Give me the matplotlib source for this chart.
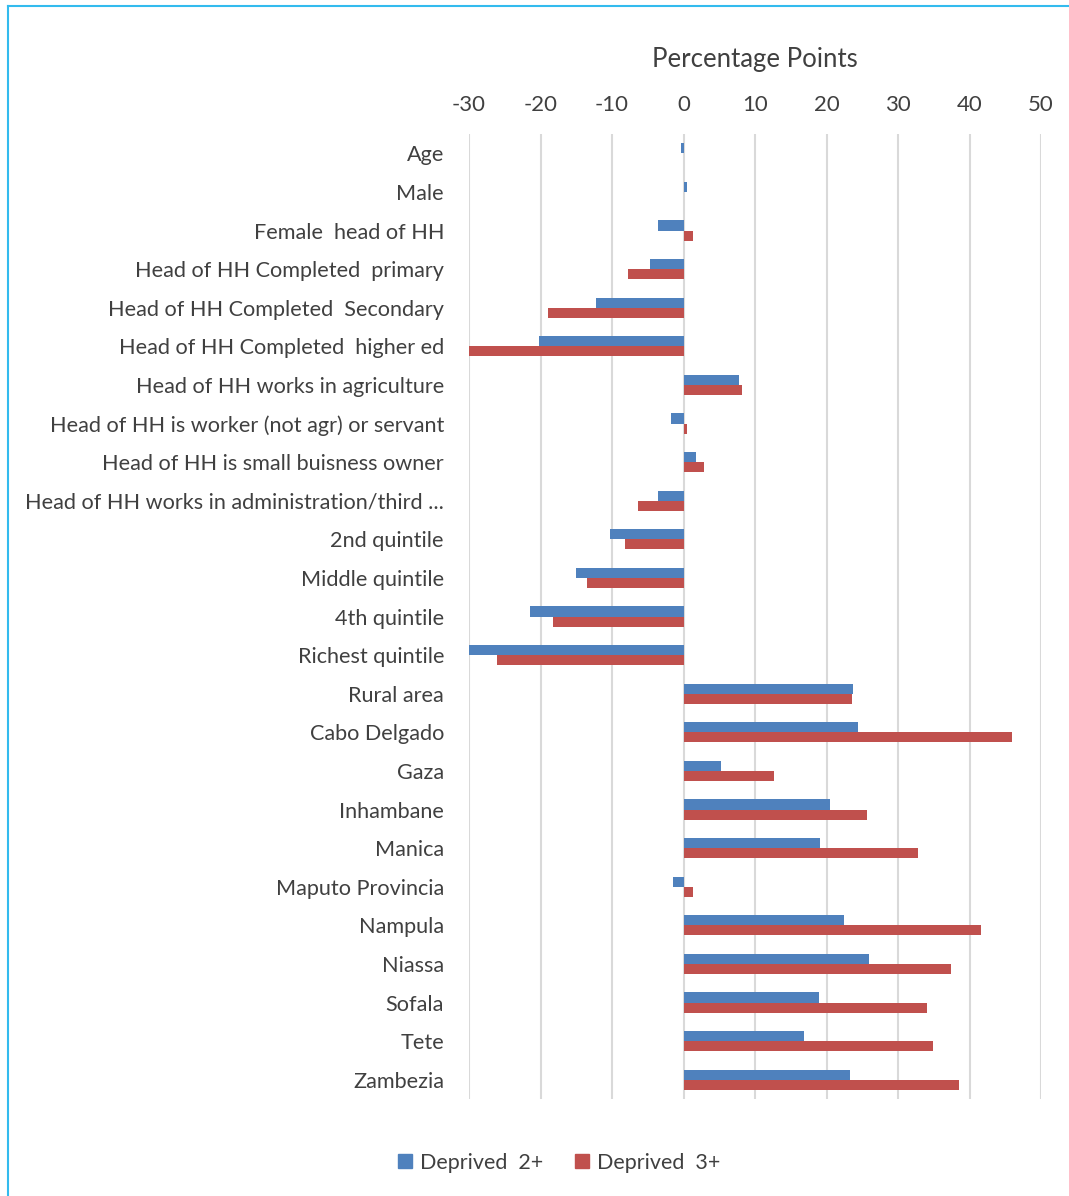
import matplotlib
matplotlib.use("Agg")
import matplotlib.pyplot as plt
import numpy as np
from matplotlib.lines import Line2D

categories = [
    "Age", "Male", "Female  head of HH", "Head of HH Completed  primary",
    "Head of HH Completed  Secondary", "Head of HH Completed  higher ed",
    "Head of HH works in agriculture", "Head of HH is worker (not agr) or servant",
    "Head of HH is small buisness owner", "Head of HH works in administration/third ...",
    "2nd quintile", "Middle quintile", "4th quintile", "Richest quintile",
    "Rural area", "Cabo Delgado", "Gaza", "Inhambane", "Manica",
    "Maputo Provincia", "Nampula", "Niassa", "Sofala", "Tete", "Zambezia",
]
deprived2 = [-0.3, 0.5, -3.6, -4.7, -12.2, -20.2, 7.7, -1.7, 1.7, -3.6,
             -10.3, -15.1, -21.4, -30.0, 23.7, 24.4, 5.2, 20.5, 19.1,
             -1.5, 22.4, 25.9, 18.9, 16.8, 23.3]
deprived3 = [0.0, 0.0, 1.3, -7.8, -18.9, -30.0, 8.2, 0.5, 2.9, -6.3,
             -8.2, -13.5, -18.2, -26.1, 23.5, 46.0, 12.6, 25.6, 32.8,
             1.3, 41.6, 37.4, 34.0, 34.9, 38.6]
series_names = ["Deprived  2+", "Deprived  3+"]
xticks = [-30, -20, -10, 0, 10, 20, 30, 40, 50]

blue = "#4F81BD"
red = "#C0504D"
txt = "#404040"
font = ["Lato", "DejaVu Sans"]

fig = plt.figure(figsize=(10.69, 11.96), dpi=100)
W, H = 1069, 1196
ax = fig.add_axes([469 / W, 1 - 1099 / H, (1041 - 469) / W, (1099 - 134) / H])

y = np.arange(len(categories))
h = 0.26
ax.barh(y - h / 2, deprived2, height=h, color=blue, linewidth=0, zorder=3)
ax.barh(y + h / 2, deprived3, height=h, color=red, linewidth=0, zorder=3)

ax.set_xlim(-30, 50)
ax.set_ylim(len(categories) - 0.5, -0.5)
ax.set_xticks(xticks)
ax.set_xticklabels([str(t) for t in xticks], fontsize=16, color=txt, family=font)
ax.xaxis.tick_top()
ax.tick_params(axis="x", length=0, pad=14)
ax.set_yticks(y)
ax.set_yticklabels(categories, fontsize=15.6, color=txt, family=font)
ax.tick_params(axis="y", length=0, pad=18)
ax.grid(axis="x", color="#D9D9D9", linewidth=1.5, zorder=0)
for s in ax.spines.values():
    s.set_visible(False)

fig.text(755 / W, 1 - 60 / H, "Percentage Points", ha="center", va="center",
         fontsize=18.5, color=txt, family=font)

handles = [Line2D([], [], marker="s", linestyle="", markersize=10, color=blue),
           Line2D([], [], marker="s", linestyle="", markersize=10, color=red)]
fig.legend(handles, series_names, loc="center", bbox_to_anchor=(552 / W, 1 - 1163 / H),
           ncol=2, frameon=False, prop={"family": font, "size": 15.5},
           handletextpad=-0.3, columnspacing=0.8, labelcolor=txt)

# frame lines (top and left)
fig.add_artist(Line2D([8 / W, 1], [1 - 6 / H, 1 - 6 / H], color="#33BBEE", linewidth=1.5))
fig.add_artist(Line2D([8 / W, 8 / W], [0, 1 - 6 / H], color="#33BBEE", linewidth=1.5))

fig.savefig("out.png", dpi=100)
